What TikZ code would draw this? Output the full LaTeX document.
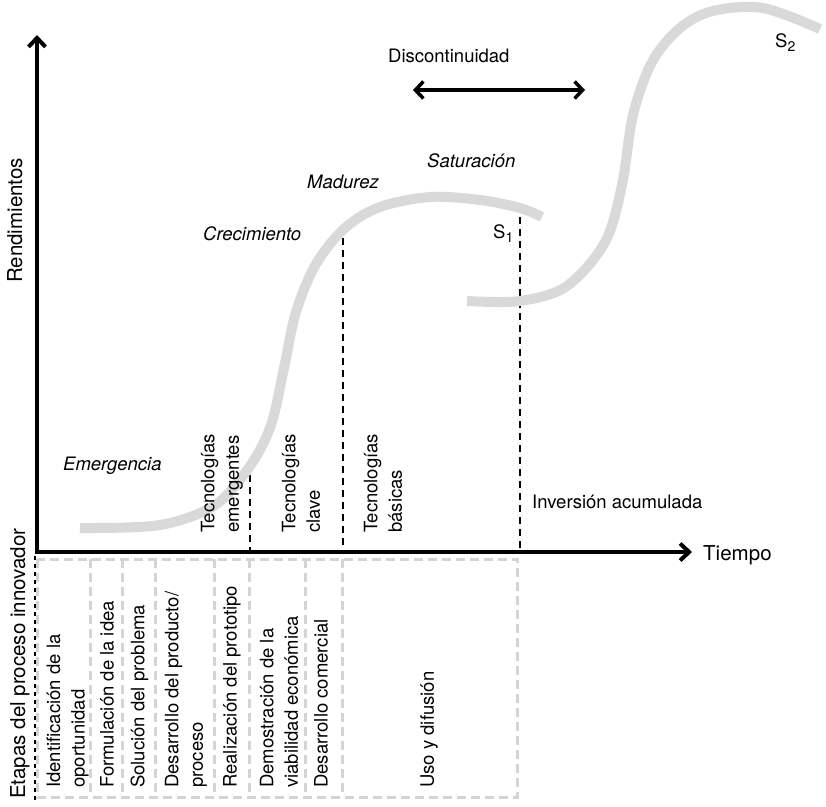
\documentclass[tikz,border=0pt]{standalone}
\usepackage{fontspec}
\setmainfont{TeX Gyre Heros}
\usetikzlibrary{arrows.meta}
\definecolor{curvegray}{RGB}{217,217,217}
\definecolor{boxgray}{RGB}{212,212,212}
\begin{document}
\begin{tikzpicture}[x=1pt,y=-1pt,
  lab/.style={font=\fontsize{18.5}{24.5}\selectfont, inner sep=0pt},
  itlab/.style={inner sep=0pt, font=\fontsize{18.5}{24}\selectfont\itshape},
  axislab/.style={font=\fontsize{20.5}{24}\selectfont, inner sep=0pt},
  vlab/.style={lab, rotate=90, anchor=west, align=left},
  axisline/.style={line width=4pt, -{Straight Barb[length=9pt,width=17pt]}},
  guide/.style={line width=1.7pt, dash pattern=on 7pt off 5pt},
  scurve/.style={line width=10pt, color=curvegray},
  boxline/.style={line width=3pt, color=boxgray, dash pattern=on 9pt off 5pt},
  dbl/.style={line width=3.5pt, {Straight Barb[length=8pt,width=17pt]}-{Straight Barb[length=8pt,width=17pt]}}
]
\useasboundingbox (0,0) rectangle (826,806);
% stage boxes
\draw[boxline] (37,559) rectangle (517,797);
\foreach \xx/\nm in {90/s1,122/s2,155/s3,214/s4,249/s5,305/s6,342/s7}{
  \coordinate (\nm t) at (\xx,559);
  \coordinate (\nm b) at (\xx,797);
  \draw[boxline] (\nm t) -- (\nm b);
}
\coordinate (lt) at (35,556);
\coordinate (lb) at (35,800);
\draw[line width=1.5pt, dash pattern=on 4pt off 4pt] (lt) -- (lb);
% guides
\coordinate (g1t) at (250,463); \coordinate (g1b) at (250,552);
\coordinate (g2t) at (343,238); \coordinate (g2b) at (343,552);
\coordinate (g3t) at (520,205); \coordinate (g3b) at (520,552);
\draw[guide] (g1t) -- (g1b);
\draw[guide] (g2t) -- (g2b);
\draw[guide] (g3t) -- (g3b);
% curves
\draw[scurve] plot[smooth, tension=0.55] coordinates {(80,528) (160,525) (215,505) (250,466) (271,425) (284,368) (296,312) (316,264) (345,228) (380,207) (430,197) (480,200) (520,208) (542,217)};
\draw[scurve] plot[smooth, tension=0.55] coordinates {(467,301) (520,301) (567,286) (605,242) (622,185) (633,115) (652,62) (680,28) (713,11) (763,8) (820,29)};
% axes
\coordinate (o) at (37,552);
\coordinate (ytop) at (37,35);
\coordinate (xend) at (692,552);
\coordinate (ostart) at (35,552);
\draw[axisline] (37,554) -- (ytop);
\draw[axisline] (ostart) -- (xend);
% discontinuity arrow
\coordinate (dl) at (413,90);
\coordinate (dr) at (585,90);
\draw[dbl] (dl) -- (dr);
% labels
\node[axislab, anchor=base west] (tiempo) at (703,560) {Tiempo};
\node[axislab, rotate=90, anchor=base west] (rend) at (22,283) {Rendimientos};
\node[axislab, rotate=90, anchor=base west] (etapas) at (25,799) {Etapas del proceso innovador};
\node[lab, anchor=base west] (disc) at (388,62) {Discontinuidad};
\node[itlab, anchor=base west] (sat) at (427,167) {Saturación};
\node[itlab, anchor=base west] (mad) at (307,188) {Madurez};
\node[itlab, anchor=base west] (crec) at (203,240) {Crecimiento};
\node[itlab, anchor=base west] (emer) at (63,470) {Emergencia};
\node[lab, anchor=base west] (inv) at (532,508) {Inversión acumulada};
\node[lab, anchor=base west] (sone) at (493,238) {S\raisebox{-4pt}{\fontsize{14}{14}\selectfont 1}};
\node[lab, anchor=base west] (stwo) at (775,47) {S\raisebox{-4pt}{\fontsize{14}{14}\selectfont 2}};
% technology labels
\node[vlab] (te) at (222,533) {Tecnologías\\emergentes};
\node[vlab] (tc) at (301,533) {Tecnologías\\clave};
\node[vlab] (tb) at (383,533) {Tecnologías\\básicas};
% stage labels
\node[vlab] (b1) at (67.5,788) {Identificación de la\\oportunidad};
\node[vlab] (b2) at (107,788) {Formulación de la idea};
\node[vlab] (b3) at (139.5,788) {Solución del problema};
\node[vlab] (b4) at (186,788) {Desarrollo del producto/\\proceso};
\node[vlab] (b5) at (232,788) {Realización del prototipo};
\node[vlab] (b6) at (279,788) {Demostración de la\\viabilidad económica};
\node[vlab] (b7) at (321,788) {Desarrollo comercial};
\node[vlab] (b8) at (429,788) {Uso y difusión};
\end{tikzpicture}
\end{document}
